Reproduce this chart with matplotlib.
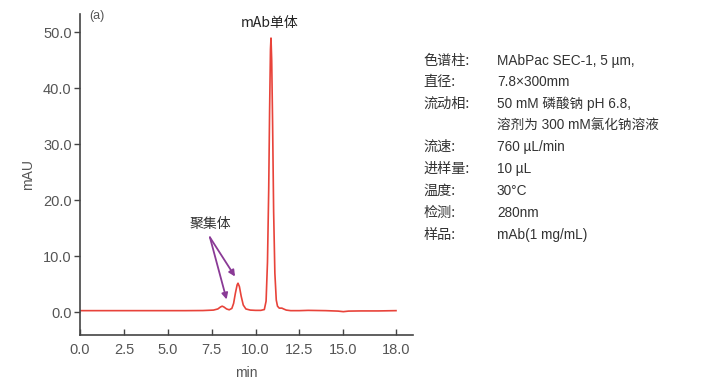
"""SEC chromatogram of mAb (aggregate + monomer) with method conditions panel."""
import matplotlib
matplotlib.use("Agg")
import matplotlib.pyplot as plt

# chromatogram trace (min, mAU)
time_min = [0.0, 2.0, 4.0, 6.0, 7.0, 7.6, 7.85, 8.0, 8.1, 8.2, 8.35, 8.5, 8.65,
            8.75, 8.85, 8.95, 9.0, 9.08, 9.18, 9.3, 9.45, 9.7, 10.0, 10.3, 10.5,
            10.6, 10.68, 10.75, 10.8, 10.85, 10.88, 10.92, 10.97, 11.03, 11.1,
            11.18, 11.25, 11.35, 11.5, 11.6, 11.75, 12.0, 12.5, 13.0, 14.0,
            14.7, 15.0, 15.3, 16.0, 17.0, 18.0]
mau = [0.30, 0.30, 0.30, 0.30, 0.32, 0.40, 0.60, 0.95, 1.10, 0.95, 0.60, 0.45,
       0.70, 1.60, 3.40, 4.90, 5.20, 4.60, 2.90, 1.30, 0.60, 0.40, 0.35, 0.35,
       0.50, 2.0, 9.0, 22.0, 36.0, 47.0, 49.0, 45.0, 34.0, 18.0, 7.0, 2.2,
       1.1, 0.75, 0.75, 0.60, 0.40, 0.30, 0.30, 0.35, 0.30, 0.22, 0.12, 0.22,
       0.25, 0.25, 0.30]

x_ticks = [0.0, 2.5, 5.0, 7.5, 10.0, 12.5, 15.0, 18.0]
y_ticks = [0.0, 10.0, 20.0, 30.0, 40.0, 50.0]

cond_labels = ["色谱柱:", "直径:", "流动相:", "", "流速:", "进样量:", "温度:", "检测:", "样品:"]
cond_values = ["MAbPac SEC-1, 5 µm,", "7.8×300mm", "50 mM 磷酸钠 pH 6.8,",
               "溶剂为 300 mM氯化钠溶液", "760 µL/min", "10 µL", "30°C", "280nm",
               "mAb(1 mg/mL)"]

cjk = ["Noto Sans CJK SC", "DejaVu Sans"]
latin_cjk = ["Liberation Sans", "Noto Sans CJK SC", "DejaVu Sans"]
narrow = ["Liberation Sans Narrow", "Liberation Sans", "DejaVu Sans"]

fig = plt.figure(figsize=(7.1, 3.88), dpi=100)
ax = fig.add_axes([0.1127, 0.1366, 0.469, 0.8274])

ax.plot(time_min, mau, color="#e8433a", linewidth=1.2)

ax.set_xlim(0, 18.97)
ax.set_ylim(-4.05, 53.3)
ax.set_xticks(x_ticks)
ax.set_xticklabels([f"{v:.1f}" for v in x_ticks], family=narrow)
ax.set_yticks(y_ticks)
ax.set_yticklabels([f"{v:.1f}" for v in y_ticks], family=narrow)
ax.tick_params(axis="x", direction="in", length=4, width=1, colors="#444",
               labelcolor="#555", labelsize=10.5, pad=6)
ax.tick_params(axis="y", direction="out", length=4, width=1, colors="#444",
               labelcolor="#555", labelsize=10.5, pad=2)
for side in ("top", "right"):
    ax.spines[side].set_visible(False)
for side in ("left", "bottom"):
    ax.spines[side].set_color("#444")
    ax.spines[side].set_linewidth(1.2)

ax.set_xlabel("min", family=narrow, fontsize=10, color="#555", labelpad=6)
ax.set_ylabel("mAU", family=narrow, fontsize=10, color="#555", labelpad=6)

ax.text(0.95, 53.0, "(a)", family=narrow, fontsize=9, color="#555",
        ha="center", va="center", clip_on=False)

# peak annotations
ax.text(10.78, 51.6, "mAb单体", family=cjk, fontsize=10, color="#222",
        ha="center", va="center")
ax.text(7.4, 15.7, "聚集体", family=cjk, fontsize=10, color="#333",
        ha="center", va="center")
for tip in [(8.35, 2.3), (8.83, 6.4)]:
    ax.annotate("", xy=tip, xytext=(7.4, 13.4),
                arrowprops=dict(arrowstyle="-|>", color="#8a3a96", lw=1.3,
                                mutation_scale=9, shrinkA=0, shrinkB=0))

# method conditions panel
row_y = [60.7, 81.8, 103.4, 125.3, 147.0, 168.9, 190.8, 212.7, 234.6]
for lab, val, ypx in zip(cond_labels, cond_values, row_y):
    yf = 1 - ypx / 388
    if lab:
        fig.text(0.597, yf, lab, family=cjk, fontsize=10.2, color="#333",
                 ha="left", va="center")
    fig.text(0.700, yf, val, family=latin_cjk, fontsize=9.8, color="#333",
             ha="left", va="center")

fig.savefig("out.png", dpi=100)
